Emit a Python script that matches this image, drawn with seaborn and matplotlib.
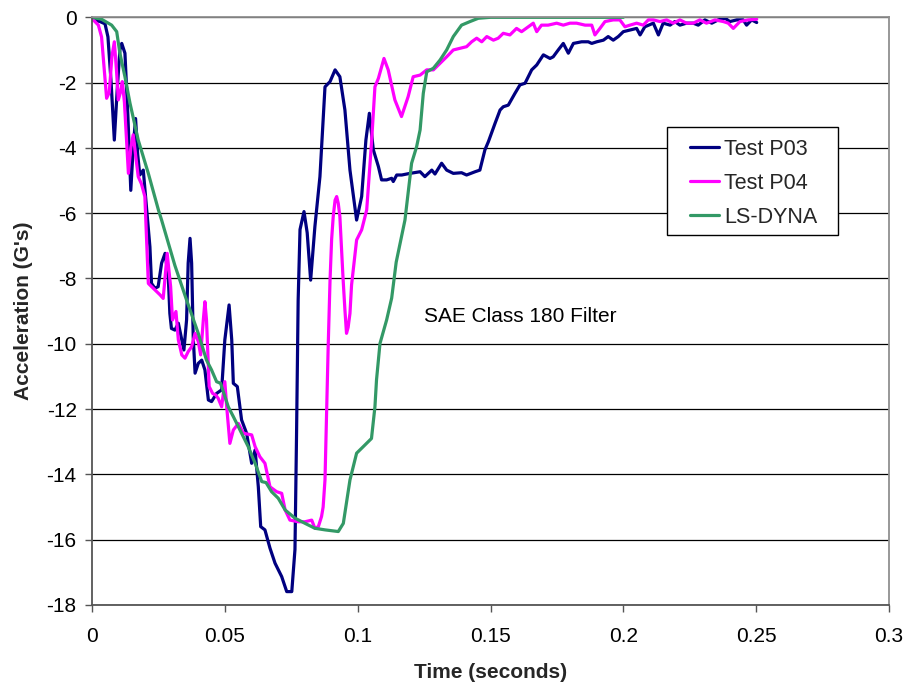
import numpy as np
import pandas as pd
import matplotlib
matplotlib.use("Agg")
import matplotlib.pyplot as plt
from matplotlib.patches import Rectangle
import seaborn as sns

# ---------------- data ----------------
p03_t = [0.0, 0.0005, 0.003, 0.0049, 0.006, 0.0072, 0.0084, 0.0095, 0.0105, 0.0112,
         0.0124, 0.0135, 0.0146, 0.0155, 0.0164, 0.0172, 0.018, 0.0193, 0.0205, 0.0218,
         0.0224, 0.0237, 0.0249, 0.0262, 0.0275, 0.0287, 0.0293, 0.0299, 0.0312, 0.0325,
         0.0338, 0.0346, 0.0356, 0.0362, 0.0369, 0.0375, 0.0381, 0.0388, 0.04, 0.0413,
         0.0425, 0.0438, 0.045, 0.0469, 0.0488, 0.05, 0.0516, 0.0526, 0.0532, 0.0547,
         0.0563, 0.0582, 0.0601, 0.0614, 0.0626, 0.0635, 0.0651, 0.067, 0.0689, 0.0714,
         0.0733, 0.0752, 0.0764, 0.077, 0.0776, 0.0783, 0.0798, 0.081, 0.0823, 0.0839,
         0.0858, 0.0877, 0.0896, 0.0915, 0.0933, 0.0952, 0.0971, 0.0996, 0.1015, 0.1031,
         0.1044, 0.1059, 0.1078, 0.109, 0.1109, 0.1128, 0.1134, 0.1147, 0.1166, 0.1197,
         0.1235, 0.1253, 0.1279, 0.1291, 0.1316, 0.1335, 0.136, 0.1391, 0.141, 0.1442,
         0.146, 0.1479, 0.1492, 0.1517, 0.1536, 0.1548, 0.1567, 0.1592, 0.1611, 0.163,
         0.1655, 0.1674, 0.1699, 0.1724, 0.1736, 0.1755, 0.1774, 0.1793, 0.1812, 0.1843,
         0.1868, 0.1881, 0.19, 0.1925, 0.1943, 0.1962, 0.1981, 0.2, 0.2025, 0.205,
         0.2063, 0.2081, 0.2113, 0.2132, 0.215, 0.2176, 0.2194, 0.2213, 0.2238, 0.2263,
         0.2282, 0.2307, 0.2333, 0.2357, 0.2383, 0.2401, 0.2427, 0.2451, 0.2464, 0.2483,
         0.2502]
p03_g = [0.0, -0.08, -0.13, -0.2, -0.6, -2.0, -3.76, -2.2, -1.0, -0.8,
         -1.1, -3.0, -5.3, -4.0, -3.1, -4.2, -4.83, -4.68, -5.8, -7.03,
         -8.15, -8.3, -8.25, -7.53, -7.23, -7.94, -9.07, -9.53, -9.58, -9.37,
         -9.88, -10.19, -9.27, -7.53, -6.77, -7.53, -9.78, -10.9, -10.6, -10.5,
         -10.8, -11.72, -11.77, -11.52, -11.41, -9.88, -8.81, -9.88, -11.21, -11.31,
         -12.33, -12.74, -13.66, -13.25, -14.38, -15.6, -15.7, -16.26, -16.72, -17.13,
         -17.59, -17.59, -16.3, -12.74, -8.66, -6.5, -5.95, -6.6, -8.05, -6.41,
         -4.88, -2.13, -1.97, -1.61, -1.82, -2.84, -4.68, -6.21, -5.49, -3.76,
         -2.94, -4.06, -4.57, -4.98, -4.98, -4.93, -5.03, -4.83, -4.83, -4.78,
         -4.73, -4.88, -4.68, -4.8, -4.47, -4.68, -4.78, -4.76, -4.83, -4.73,
         -4.68, -4.06, -3.81, -3.25, -2.84, -2.74, -2.69, -2.33, -2.07, -2.02,
         -1.61, -1.46, -1.15, -1.26, -1.21, -1.0, -0.8, -1.1, -0.8, -0.75,
         -0.75, -0.8, -0.75, -0.7, -0.59, -0.7, -0.59, -0.44, -0.39, -0.34,
         -0.54, -0.29, -0.18, -0.54, -0.18, -0.24, -0.13, -0.24, -0.18, -0.18,
         -0.24, -0.08, -0.18, -0.08, -0.03, -0.13, -0.08, -0.08, -0.24, -0.08,
         -0.16]

p04_t = [0.0, 0.0005, 0.0024, 0.0036, 0.0048, 0.0055, 0.0065, 0.0075, 0.0084, 0.0092,
         0.0099, 0.0107, 0.0114, 0.0122, 0.0137, 0.0146, 0.0155, 0.0164, 0.0174, 0.0186,
         0.0199, 0.0212, 0.0218, 0.0237, 0.0256, 0.0268, 0.0283, 0.0296, 0.0303, 0.0316,
         0.0325, 0.0338, 0.035, 0.0362, 0.0375, 0.0388, 0.04, 0.0409, 0.0419, 0.0425,
         0.0431, 0.0441, 0.0454, 0.0466, 0.0475, 0.0488, 0.05, 0.0507, 0.0519, 0.0532,
         0.0551, 0.057, 0.0601, 0.0614, 0.0632, 0.0651, 0.067, 0.0695, 0.0714, 0.0727,
         0.0745, 0.0776, 0.0802, 0.0827, 0.0839, 0.0852, 0.0864, 0.087, 0.0877, 0.0883,
         0.0889, 0.0896, 0.0902, 0.0908, 0.0915, 0.0921, 0.0927, 0.0933, 0.0945, 0.0952,
         0.0958, 0.0964, 0.0971, 0.0977, 0.0996, 0.1015, 0.1034, 0.1052, 0.1065, 0.1078,
         0.1099, 0.1115, 0.114, 0.1165, 0.119, 0.1209, 0.1235, 0.126, 0.1285, 0.131,
         0.1335, 0.136, 0.1385, 0.141, 0.1429, 0.1448, 0.1467, 0.1486, 0.1511, 0.1529,
         0.1548, 0.1573, 0.1598, 0.1617, 0.1642, 0.1661, 0.1674, 0.1692, 0.1717, 0.1749,
         0.1774, 0.1799, 0.1824, 0.1856, 0.1881, 0.1893, 0.1912, 0.1931, 0.1962, 0.1987,
         0.2006, 0.2025, 0.205, 0.2075, 0.2094, 0.2113, 0.2138, 0.2163, 0.2188, 0.2213,
         0.2238, 0.2263, 0.2288, 0.2313, 0.2345, 0.2376, 0.2395, 0.2414, 0.2439, 0.247,
         0.2502]
p04_g = [0.0, -0.08, -0.24, -0.6, -1.8, -2.48, -2.3, -1.2, -0.75, -1.6,
         -2.53, -2.3, -1.97, -2.6, -4.78, -4.0, -3.6, -4.2, -4.88, -5.1,
         -5.49, -8.15, -8.2, -8.35, -8.5, -8.61, -7.23, -8.25, -9.27, -9.01,
         -9.88, -10.34, -10.44, -10.24, -10.09, -9.68, -9.93, -10.34, -9.27, -8.71,
         -9.27, -11.31, -11.52, -11.57, -11.67, -11.93, -11.16, -11.93, -13.05, -12.64,
         -12.44, -12.74, -12.79, -13.15, -13.46, -13.66, -14.38, -14.53, -14.58, -15.09,
         -15.4, -15.45, -15.45, -15.4, -15.65, -15.6, -15.29, -15.0, -14.17, -12.13,
         -10.09, -8.05, -6.8, -6.1, -5.6, -5.49, -5.7, -6.1, -8.0, -8.96,
         -9.68, -9.5, -9.07, -8.2, -6.82, -6.51, -5.9, -3.86, -2.13, -1.87,
         -1.26, -1.61, -2.53, -3.04, -2.43, -1.82, -1.77, -1.61, -1.61, -1.41,
         -1.21, -1.0, -0.95, -0.9, -0.75, -0.64, -0.75, -0.59, -0.7, -0.64,
         -0.49, -0.54, -0.34, -0.44, -0.29, -0.18, -0.44, -0.24, -0.24, -0.18,
         -0.24, -0.18, -0.18, -0.24, -0.24, -0.54, -0.34, -0.13, -0.08, -0.08,
         -0.29, -0.24, -0.18, -0.24, -0.08, -0.08, -0.13, -0.08, -0.18, -0.08,
         -0.18, -0.18, -0.08, -0.18, -0.08, -0.13, -0.18, -0.34, -0.13, -0.08,
         -0.06]

dyna_t = [0.0, 0.0036, 0.0074, 0.0093, 0.0105, 0.0124, 0.0143, 0.0174, 0.0212, 0.025,
          0.0262, 0.0312, 0.0356, 0.04, 0.0431, 0.045, 0.0469, 0.0484, 0.0513, 0.0532,
          0.0551, 0.0588, 0.0614, 0.0639, 0.0655, 0.0676, 0.0701, 0.0727, 0.0764, 0.0802,
          0.0839, 0.0878, 0.0927, 0.0946, 0.0971, 0.0996, 0.1021, 0.1052, 0.1065, 0.1071,
          0.1084, 0.1109, 0.1128, 0.1145, 0.1178, 0.1203, 0.1222, 0.1235, 0.1247, 0.126,
          0.1285, 0.131, 0.1335, 0.136, 0.1391, 0.1423, 0.1454, 0.15, 0.2]
dyna_g = [0.0, -0.06, -0.24, -0.44, -1.1, -1.82, -2.63, -3.76, -4.78, -5.9,
          -6.21, -7.6, -8.66, -9.68, -10.5, -10.8, -11.16, -11.21, -11.93, -12.23,
          -12.54, -13.15, -13.66, -14.22, -14.25, -14.53, -14.73, -15.09, -15.34, -15.5,
          -15.65, -15.7, -15.75, -15.5, -14.17, -13.35, -13.15, -12.9, -11.93, -11.1,
          -9.99, -9.27, -8.6, -7.5, -6.21, -4.47, -3.96, -3.45, -2.33, -1.67,
          -1.56, -1.31, -1.0, -0.59, -0.24, -0.13, -0.03, 0.0, 0.0]

series_names = ["Test P03", "Test P04", "LS-DYNA"]
series_colors = ["#000080", "#FF00FF", "#339966"]
x_ticks = [0, 0.05, 0.1, 0.15, 0.2, 0.25, 0.3]
x_tick_labels = ["0", "0.05", "0.1", "0.15", "0.2", "0.25", "0.3"]
y_ticks = [-18, -16, -14, -12, -10, -8, -6, -4, -2, 0]
y_tick_labels = ["-18", "-16", "-14", "-12", "-10", "-8", "-6", "-4", "-2", "0"]
annotation = "SAE Class 180 Filter"

# ---------------- build table ----------------
frames = []
for name, t, g in [(series_names[0], p03_t, p03_g),
                   (series_names[1], p04_t, p04_g),
                   (series_names[2], dyna_t, dyna_g)]:
    frames.append(pd.DataFrame({"Time": t, "Accel": g, "Series": name}))
df = pd.concat(frames, ignore_index=True)

# ---------------- style ----------------
sns.set_style("white")
plt.rcParams["font.family"] = ["Liberation Sans", "DejaVu Sans"]
plt.rcParams["axes.unicode_minus"] = False

W, H = 908, 687
AX_L, AX_R, AX_T, AX_B = 92, 889, 17.3, 605
fig = plt.figure(figsize=(W / 100, H / 100), dpi=100)
ax = fig.add_axes([AX_L / W, 1 - AX_B / H, (AX_R - AX_L) / W, (AX_B - AX_T) / H])

sns.lineplot(data=df, x="Time", y="Accel", hue="Series", hue_order=series_names,
             palette=series_colors, sort=False, estimator=None, linewidth=2.3,
             ax=ax, legend=True)
for ln in ax.get_lines():
    ln.set_solid_joinstyle("round")
    ln.set_solid_capstyle("round")

ax.set_xlim(0, 0.3)
ax.set_ylim(-18, 0)
ax.set_xticks(x_ticks)
ax.set_xticklabels(x_tick_labels)
ax.set_yticks(y_ticks)
ax.set_yticklabels(y_tick_labels)

ax.yaxis.grid(True, color="black", linewidth=0.9)
ax.xaxis.grid(False)
ax.set_axisbelow(True)

for side in ["left", "bottom"]:
    ax.spines[side].set_color("#555555")
    ax.spines[side].set_linewidth(1.3)
for side in ["top", "right"]:
    ax.spines[side].set_color("#909090")
    ax.spines[side].set_linewidth(1.3)

ax.tick_params(axis="both", which="major", direction="out", length=5, width=1.0,
               color="#555555", labelsize=15, labelcolor="black")
ax.tick_params(axis="x", bottom=True, pad=11)
ax.tick_params(axis="y", left=True, pad=6)

ax.set_xlabel("Time (seconds)", fontsize=15, fontweight="bold", labelpad=12)
ax.set_ylabel("Acceleration (G's)", fontsize=15, fontweight="bold", labelpad=10)

ax.text(0.125, -9.17, annotation, fontsize=15, ha="left", va="center", color="black")

# legend frame box (pixel geometry of the reference legend)
def ax_frac(px, py):
    return ((px - AX_L) / (AX_R - AX_L), (AX_B - py) / (AX_B - AX_T))

lx0, ly0 = ax_frac(667, 235)
lx1, ly1 = ax_frac(838, 127)
ax.add_patch(Rectangle((lx0, ly0), lx1 - lx0, ly1 - ly0, transform=ax.transAxes,
                       facecolor="white", edgecolor="black", linewidth=1.0,
                       zorder=4.5, clip_on=False))

handles, labels = ax.get_legend_handles_labels()
leg = ax.legend(handles, labels, loc="upper left",
                bbox_to_anchor=ax_frac(690, 139),
                fontsize=15.5, frameon=False, borderpad=0, labelspacing=0.6,
                handlelength=1.35, handletextpad=0.25, borderaxespad=0)
leg.set_zorder(5)
for h in leg.get_lines():
    h.set_linewidth(2.3)

fig.savefig("out.png", dpi=100)
